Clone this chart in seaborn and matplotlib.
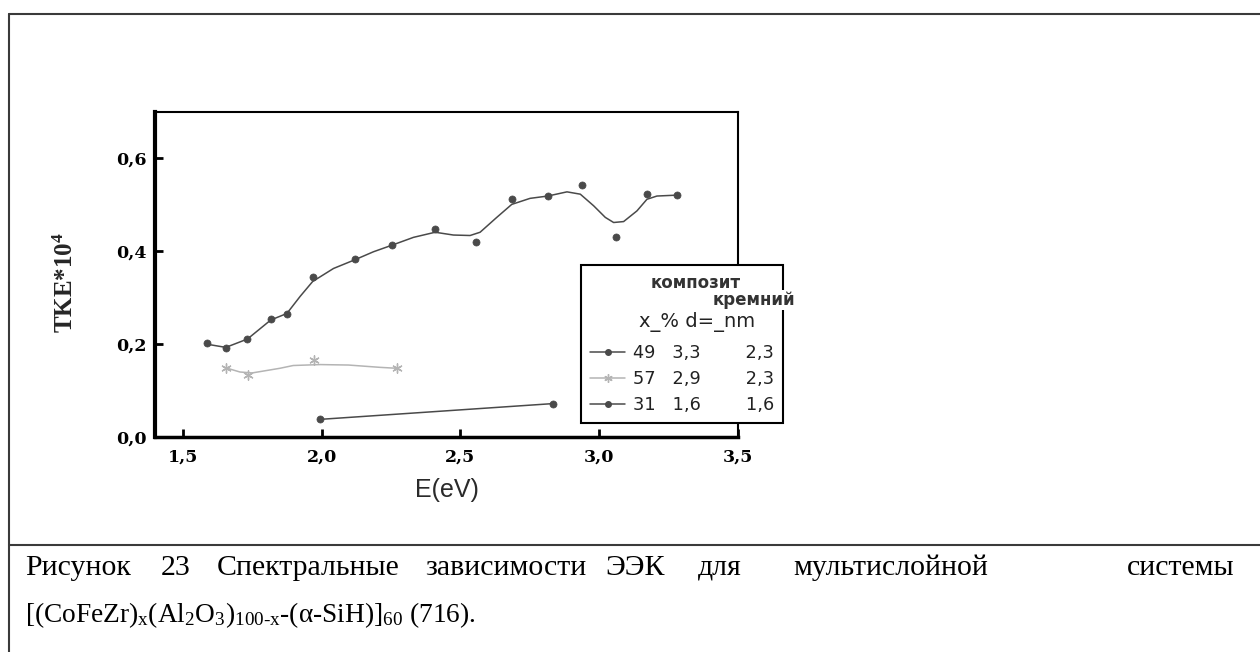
"""Spectral dependence of TKE for the multilayer CoFeZr/Al2O3/SiH system."""

import matplotlib
matplotlib.use("Agg")
import matplotlib.pyplot as plt
from matplotlib.lines import Line2D
import pandas as pd
import seaborn as sns

W, H = 1260, 652

# x = 49 %, d = 3,3 nm (measured points and the drawn smooth curve)
s1_x = [1.586, 1.655, 1.733, 1.817, 1.875, 1.968, 2.121, 2.253, 2.409, 2.557,
        2.685, 2.815, 2.937, 3.059, 3.172, 3.282]
s1_y = [0.202, 0.191, 0.211, 0.255, 0.266, 0.344, 0.384, 0.413, 0.448, 0.421,
        0.512, 0.519, 0.543, 0.430, 0.523, 0.521]
s1_curve_x = [1.586, 1.655, 1.733, 1.817, 1.875, 1.923, 1.968, 2.043, 2.121, 2.187,
              2.253, 2.331, 2.409, 2.475, 2.535, 2.571, 2.631, 2.685, 2.751, 2.815,
              2.884, 2.932, 2.980, 3.022, 3.052, 3.088, 3.136, 3.172, 3.208, 3.282]
s1_curve_y = [0.200, 0.193, 0.211, 0.252, 0.266, 0.303, 0.335, 0.363, 0.382, 0.399,
              0.413, 0.430, 0.441, 0.435, 0.434, 0.441, 0.473, 0.501, 0.514, 0.519,
              0.528, 0.523, 0.498, 0.473, 0.462, 0.464, 0.487, 0.512, 0.519, 0.521]

# x = 57 %, d = 2,9 nm
s2_x = [1.655, 1.736, 1.973, 2.271]
s2_y = [0.149, 0.133, 0.165, 0.149]
s2_curve_x = [1.655, 1.706, 1.750, 1.790, 1.850, 1.898, 1.995, 2.097, 2.211, 2.271]
s2_curve_y = [0.149, 0.140, 0.138, 0.142, 0.148, 0.154, 0.156, 0.155, 0.150, 0.148]

# x = 31 %, d = 1,6 nm
s3_x = [1.995, 2.835]
s3_y = [0.038, 0.072]

legend_labels = ["49   3,3        2,3", "57   2,9        2,3", "31   1,6        1,6"]
x_ticks = [1.5, 2.0, 2.5, 3.0, 3.5]
x_tick_labels = ["1,5", "2,0", "2,5", "3,0", "3,5"]
y_ticks = [0.0, 0.2, 0.4, 0.6]
y_tick_labels = ["0,0", "0,2", "0,4", "0,6"]

caption_words = ["Рисунок", "23", "Спектральные", "зависимости", "ЭЭК", "для",
                 "мультислойной", "системы"]
caption_line2 = (r"[(CoFeZr)$_\mathrm{x}$(Al$_2$O$_3$)$_\mathrm{100\text{-}x}$"
                 r"-(α-SiH)]$_{60}$ (716).")

DARK = "#4a4a4a"
LIGHT = "#b4b4b4"

sns.set_theme(style="white")
plt.rcParams["font.family"] = ["Liberation Serif", "DejaVu Serif"]
plt.rcParams["mathtext.fontset"] = "custom"
plt.rcParams["mathtext.rm"] = "Liberation Serif"
plt.rcParams["mathtext.it"] = "Liberation Serif:italic"
plt.rcParams["mathtext.bf"] = "Liberation Serif:bold"


def fx(px):
    return px / W


def fy(py):
    return 1 - py / H


fig = plt.figure(figsize=(W / 100, H / 100), dpi=100)
fig.patch.set_facecolor("white")
ax = fig.add_axes([fx(155), fy(437), (738 - 155) / W, (437 - 112) / H])

curves = pd.concat([
    pd.DataFrame({"E": s1_curve_x, "TKE": s1_curve_y, "s": "49"}),
    pd.DataFrame({"E": s2_curve_x, "TKE": s2_curve_y, "s": "57"}),
    pd.DataFrame({"E": s3_x, "TKE": s3_y, "s": "31"}),
])
palette = {"49": DARK, "57": LIGHT, "31": DARK}
sns.lineplot(data=curves, x="E", y="TKE", hue="s", palette=palette, sort=False,
             estimator=None, linewidth=1.1, legend=False, ax=ax)

sns.scatterplot(x=s1_x, y=s1_y, color=DARK, marker="o", s=26, edgecolor=DARK,
                linewidth=0.5, ax=ax, zorder=3)
sns.scatterplot(x=s3_x, y=s3_y, color=DARK, marker="o", s=26, edgecolor=DARK,
                linewidth=0.5, ax=ax, zorder=3)
sns.scatterplot(x=s2_x, y=s2_y, color=LIGHT, marker=(6, 2, 0), s=45,
                linewidth=1.0, ax=ax, zorder=3)

ax.set_xlim(1.4, 3.5)
ax.set_ylim(0.0, 0.7)
ax.set_xticks(x_ticks)
ax.set_xticklabels(x_tick_labels)
ax.set_yticks(y_ticks)
ax.set_yticklabels(y_tick_labels)
ax.tick_params(direction="in", length=6, width=2, colors="black",
               labelsize=12.5, bottom=True, left=True)
ax.tick_params(axis="x", pad=8)
ax.tick_params(axis="y", pad=6)
for lab in ax.get_xticklabels() + ax.get_yticklabels():
    lab.set_family("DejaVu Serif")
    lab.set_fontweight("bold")
for side, lw in {"left": 3.0, "bottom": 2.5, "top": 1.5, "right": 1.5}.items():
    ax.spines[side].set_linewidth(lw)
    ax.spines[side].set_color("black")

ax.set_xlabel("E(eV)", family="Liberation Sans", fontsize=18, color="#2a2a2a")
ax.xaxis.set_label_coords(0.5, -0.126)
ax.set_ylabel(r"TKE*10$^\mathbf{4}$", fontsize=18, fontweight="bold")
ax.yaxis.set_label_coords(-0.132, 0.474)

handles = [
    Line2D([], [], color=DARK, lw=1.1, marker="o", ms=4),
    Line2D([], [], color=LIGHT, lw=1.1, marker=(6, 2, 0), ms=6),
    Line2D([], [], color=DARK, lw=1.1, marker="o", ms=4),
]
leg = fig.legend(handles, legend_labels, loc="upper left",
                 bbox_to_anchor=(fx(581), fy(265)), borderaxespad=0,
                 title="\n\n", title_fontsize=15, fancybox=False,
                 framealpha=1, edgecolor="black", handlelength=2.0,
                 handletextpad=0.4, labelspacing=0.45, borderpad=0.5,
                 prop={"family": "DejaVu Sans", "size": 12.8})
leg.get_frame().set_linewidth(1.5)
for t in leg.get_texts():
    t.set_color("#222222")

fig.text(fx(696), fy(283), "композит", ha="center", va="center",
         family="DejaVu Sans", fontsize=12, fontweight="bold",
         color="#333333", zorder=6)
fig.text(fx(754), fy(300), "кремний", ha="center", va="center",
         family="DejaVu Sans", fontsize=12, fontweight="bold",
         color="#333333", zorder=6,
         bbox=dict(facecolor="white", edgecolor="none", pad=0.5))
fig.text(fx(697), fy(322), "x_% d=_nm", ha="center", va="center",
         family="DejaVu Sans", fontsize=14, color="#222222", zorder=6)

# document table borders
for xs, ys in [([9, W], [14, 14]), ([9, 9], [14, H]), ([9, W], [545, 545])]:
    fig.add_artist(Line2D([fx(x) for x in xs], [fy(y) for y in ys],
                          color="#3a3a3a", lw=1.5))

# justified caption, first line
word_pos = [(25, "left"), (176, "center"), (308, "center"), (506, "center"),
            (635, "center"), (720, "center"), (891, "center"), (1235, "right")]
for word, (px, ha) in zip(caption_words, word_pos):
    fig.text(fx(px), fy(568), word, ha=ha, va="center", fontsize=21.5,
             color="black")
fig.text(fx(25), fy(615), caption_line2, ha="left", va="center", fontsize=19.7,
         color="black")

fig.savefig("out.png", dpi=100, facecolor="white")
